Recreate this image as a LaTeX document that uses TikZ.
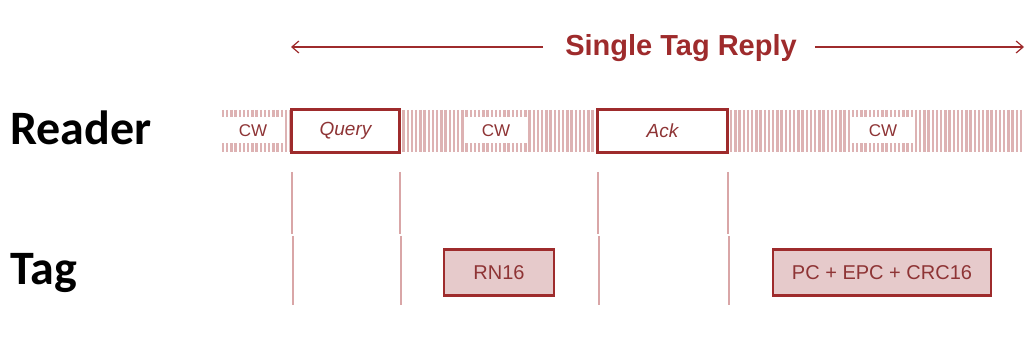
\documentclass[tikz,border=0pt]{standalone}
\usepackage{fontspec}
\setmainfont{Liberation Sans}
\newfontfamily\labelfont{Carlito}
\usetikzlibrary{arrows.meta}
\definecolor{darkred}{HTML}{9E2B2C}
\definecolor{txtred}{HTML}{8E3435}
\definecolor{stripe}{HTML}{DDB2B3}
\definecolor{vline}{HTML}{D9A6A7}
\definecolor{pinkfill}{HTML}{E6CACB}
\tikzset{
  msgbox/.style={draw=darkred, line width=2.6pt, fill=white, minimum height=43pt, inner sep=0pt, text=txtred, font=\fontsize{19}{21}\selectfont\itshape},
  tagbox/.style={draw=darkred, line width=2.6pt, fill=pinkfill, minimum height=46pt, inner sep=0pt, text=txtred, font=\fontsize{20}{22}\selectfont},
  cwbox/.style={fill=white, inner sep=0pt, minimum height=26pt, text=txtred, font=\fontsize{17}{19}\selectfont},
  sidelabel/.style={anchor=west, font=\labelfont\bfseries\fontsize{48}{52}\selectfont, text=black, inner sep=0pt},
  stripeline/.style={draw=stripe, line width=2.5pt},
  timeline/.style={draw=vline, line width=2pt},
  spanarrow/.style={draw=darkred, line width=1.4pt, -{Straight Barb[length=7pt,width=12pt,line width=1.2pt]}}
}
\begin{document}
\begin{tikzpicture}[x=1pt,y=-1pt]
\useasboundingbox (0,0) rectangle (1025,355);
% stripes of the reader CW signal
\foreach \x in {223,227.2,...,1025} {
  \ifdim \x pt<291pt \draw[stripeline] (\x,110) -- (\x,152); \fi
  \ifdim \x pt>402pt \ifdim \x pt<596pt \draw[stripeline] (\x,110) -- (\x,152); \fi\fi
  \ifdim \x pt>730pt \draw[stripeline] (\x,110) -- (\x,152); \fi
}
% CW labels
\node[cwbox, minimum width=64pt] (cw1) at (253,130.5) {CW};
\node[cwbox, minimum width=62pt] (cw2) at (496,130.5) {CW};
\node[cwbox, minimum width=62pt] (cw3) at (883,130.5) {CW};
% reader commands
\node[msgbox, minimum width=108pt] (query) at (345.5,131) {Query};
\node[msgbox, minimum width=130pt] (ack) at (662.5,131) {Ack};
% tag replies
\node[tagbox, minimum width=110pt] (rn16) at (499,272.5) {RN16};
\node[tagbox, minimum width=218pt] (epc) at (882,272.5) {PC + EPC + CRC16};
% side labels
\node[sidelabel] (reader) at (10,128) {Reader};
\node[sidelabel] (tag) at (10,273) {Tag};
% title and span arrows
\node[text=darkred, font=\bfseries\fontsize{29}{32}\selectfont, inner sep=0pt] (title) at (681,48) {Single Tag Reply};
\coordinate (leftend) at (291,47);
\coordinate (rightend) at (1024,47);
\draw[spanarrow] (title.west |- leftend) ++(-22,0) -- (leftend);
\draw[spanarrow] (title.east |- rightend) ++(18,0) -- (rightend);
% time markers
\foreach \x in {292,400,598,728} {
  \draw[timeline] (\x,172) -- (\x,234);
  \draw[timeline] (\x+0.6,236) -- (\x+0.6,305);
}
\end{tikzpicture}
\end{document}
